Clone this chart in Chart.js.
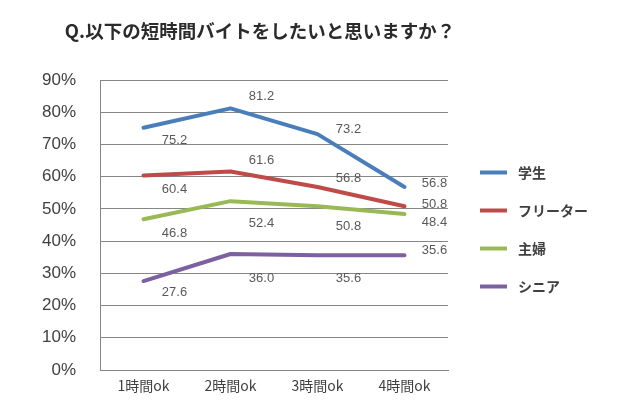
<!DOCTYPE html>
<html>
<head>
<meta charset="utf-8">
<script src="https://cdn.jsdelivr.net/npm/chart.js@4.4.1/dist/chart.umd.min.js"></script>
<style>
  html, body { margin: 0; padding: 0; background: #ffffff; }
  #wrap { width: 620px; height: 410px; }
</style>
</head>
<body>
<div id="wrap"><canvas id="c" width="620" height="410"></canvas></div>
<script>
// ---- data ----
const titleText = 'Q.以下の短時間バイトをしたいと思いますか？';
const categories = ['1時間ok', '2時間ok', '3時間ok', '4時間ok'];
const seriesNames = ['学生', 'フリーター', '主婦', 'シニア'];
const students = [75.2, 81.2, 73.2, 56.8];
const freeters = [60.4, 61.6, 56.8, 50.8];
const housewives = [46.8, 52.4, 50.8, 48.4];
const seniors = [27.6, 36.0, 35.6, 35.6];
const yMin = 0;
const yMax = 90;
const yStep = 10;

// ---- styles ----
const seriesColors = ['#4A7EBB', '#BE4B48', '#98B954', '#7D60A0'];
// data label offsets (dx, dy) from each point, in px
const labelOffsets = [
  [[31, 13], [31, -11.5], [31, -5], [30, -4]],
  [[31, 14.5], [31, -11.5], [31, -9], [30, -2]],
  [[31, 14], [31, 22], [31, 20], [30, 8]],
  [[31, 11], [31, 24], [31, 23], [30, -5]]
];
const cjk = "'Noto Sans CJK JP', 'Noto Sans', sans-serif";

const titlePlugin = {
  id: 'customTitle',
  afterDraw(chart) {
    const ctx = chart.ctx;
    ctx.save();
    ctx.font = 'bold 18.5px ' + cjk;
    ctx.fillStyle = '#2b2b2b';
    ctx.textAlign = 'center';
    ctx.textBaseline = 'middle';
    ctx.fillText(titleText, 260, 31);
    ctx.restore();
  }
};

const legendPlugin = {
  id: 'customLegend',
  afterDraw(chart) {
    const ctx = chart.ctx;
    ctx.save();
    chart.data.datasets.forEach((ds, i) => {
      const y = 172.5 + i * 38;
      ctx.strokeStyle = ds.borderColor;
      ctx.lineWidth = 4;
      ctx.lineCap = 'butt';
      ctx.beginPath();
      ctx.moveTo(480, y);
      ctx.lineTo(507, y);
      ctx.stroke();
      ctx.font = 'bold 14px ' + cjk;
      ctx.fillStyle = '#404040';
      ctx.textAlign = 'left';
      ctx.textBaseline = 'middle';
      ctx.fillText(ds.label, 518, y);
    });
    ctx.restore();
  }
};

const dataLabelPlugin = {
  id: 'dataLabels',
  afterDatasetsDraw(chart) {
    const ctx = chart.ctx;
    ctx.save();
    ctx.font = "13px 'Liberation Sans', sans-serif";
    ctx.fillStyle = '#595959';
    ctx.textAlign = 'center';
    ctx.textBaseline = 'middle';
    chart.data.datasets.forEach((ds, i) => {
      const meta = chart.getDatasetMeta(i);
      meta.data.forEach((pt, j) => {
        const off = labelOffsets[i][j];
        ctx.fillText(ds.data[j].toFixed(1), pt.x + off[0], pt.y + off[1]);
      });
    });
    ctx.restore();
  }
};

const seriesValues = [students, freeters, housewives, seniors];

new Chart(document.getElementById('c'), {
  type: 'line',
  data: {
    labels: categories,
    datasets: seriesNames.map((name, i) => ({
      label: name,
      data: seriesValues[i],
      borderColor: seriesColors[i],
      backgroundColor: seriesColors[i],
      borderWidth: 4,
      pointRadius: 0,
      pointHoverRadius: 0,
      tension: 0,
      borderCapStyle: 'round',
      borderJoinStyle: 'round',
      fill: false
    }))
  },
  options: {
    responsive: false,
    animation: false,
    events: [],
    layout: { padding: { top: 80, right: 172, bottom: 0, left: 0 } },
    plugins: {
      legend: { display: false },
      title: { display: false },
      tooltip: { enabled: false }
    },
    scales: {
      x: {
        offset: true,
        grid: { display: false, drawTicks: false },
        border: { display: true, color: '#868686', width: 1 },
        ticks: {
          color: '#404040',
          font: { family: cjk, size: 14 },
          padding: 7,
          maxRotation: 0
        },
        afterFit(scale) { scale.height = 40; }
      },
      y: {
        min: yMin,
        max: yMax,
        grid: { color: '#868686', lineWidth: 1, drawTicks: false },
        border: { display: true, color: '#868686', width: 1 },
        ticks: {
          stepSize: yStep,
          color: '#404040',
          font: { family: "'Liberation Sans', sans-serif", size: 17 },
          padding: 24,
          callback: v => v + '%'
        },
        afterFit(scale) { scale.width = 100; }
      }
    }
  },
  plugins: [titlePlugin, legendPlugin, dataLabelPlugin]
});
</script>
</body>
</html>
